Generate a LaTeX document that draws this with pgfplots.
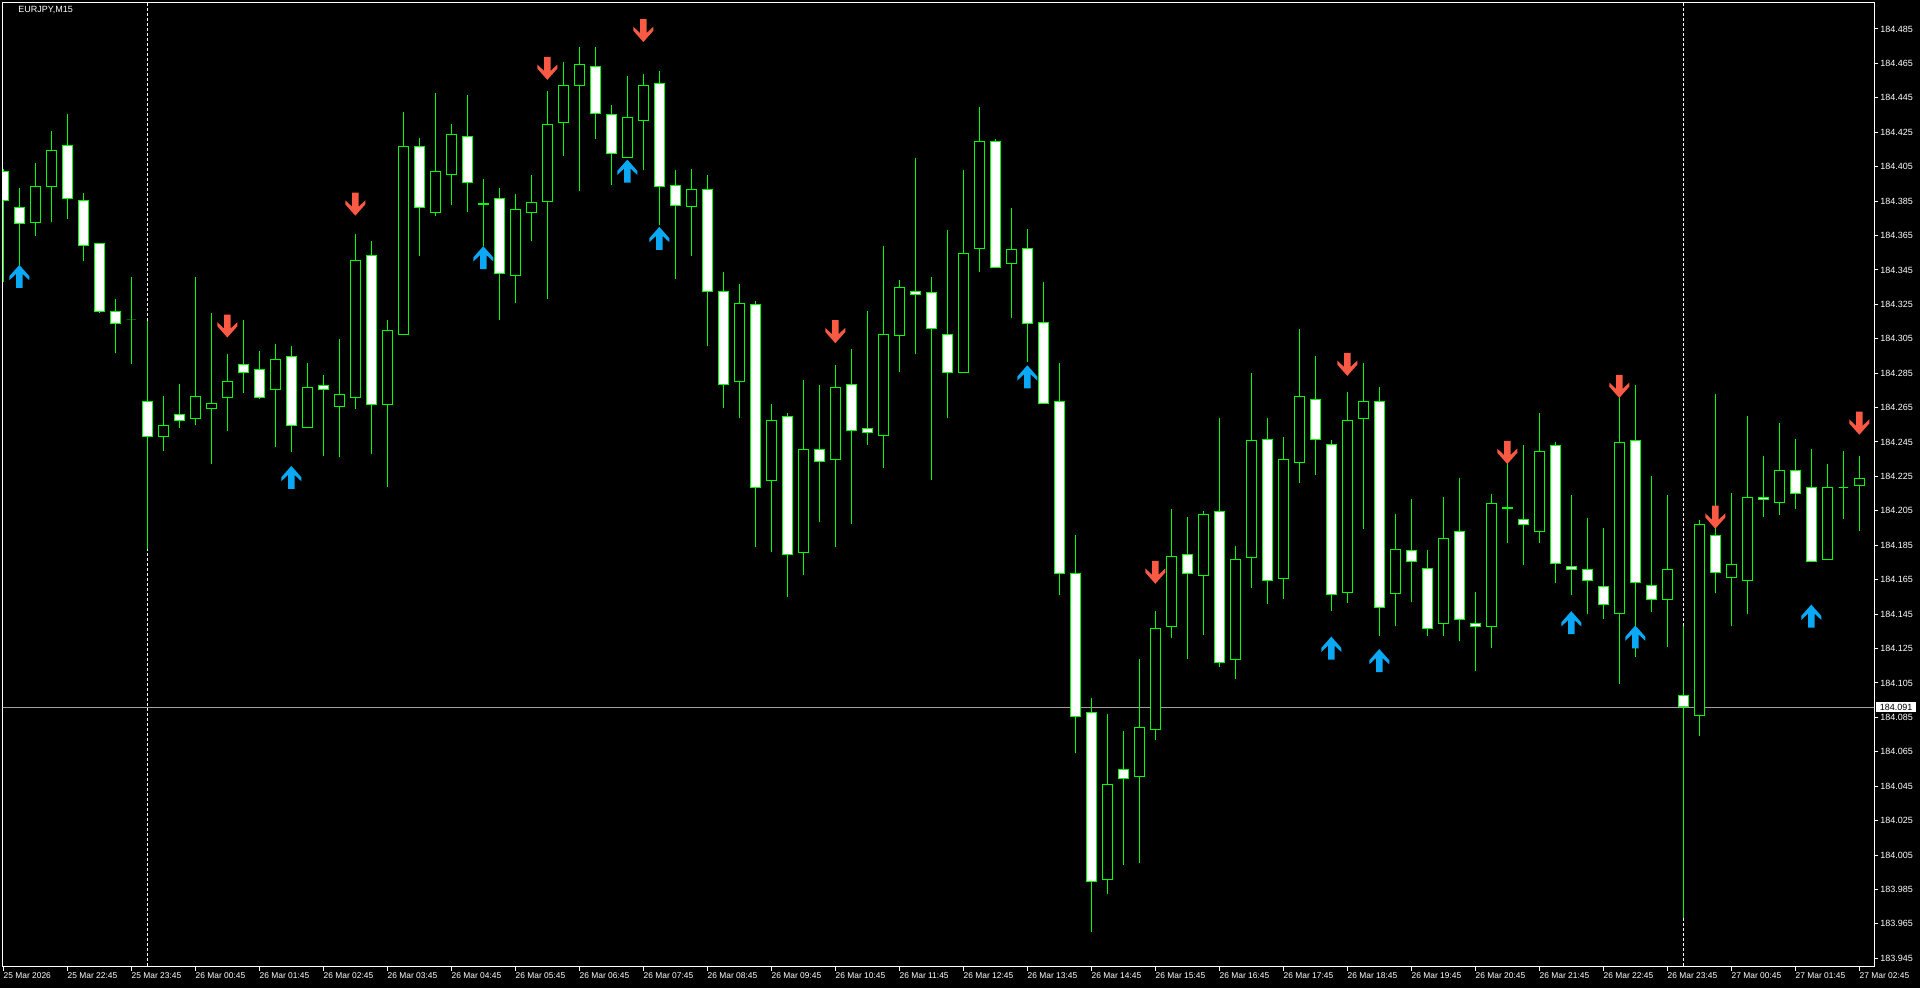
\documentclass[border=0pt]{standalone}
\usepackage{fontspec}
\setmainfont{Liberation Sans}
\usepackage{pgfplots}
\usepackage{pgfplotstable}
\pgfplotsset{compat=1.18}
\definecolor{mtgreen}{RGB}{0,255,0}
\definecolor{arrred}{RGB}{250,90,68}
\definecolor{arrblue}{RGB}{10,168,245}
\definecolor{pline}{RGB}{160,160,160}

\pgfdeclareplotmark{dnarr}{%
 \pgfpathmoveto{\pgfpoint{-1.65pt}{5.75pt}}%
 \pgfpathlineto{\pgfpoint{1.65pt}{5.75pt}}%
 \pgfpathlineto{\pgfpoint{1.65pt}{-1.25pt}}%
 \pgfpathlineto{\pgfpoint{5pt}{1.9pt}}%
 \pgfpathlineto{\pgfpoint{5pt}{-0.1pt}}%
 \pgfpathlineto{\pgfpoint{0pt}{-5.75pt}}%
 \pgfpathlineto{\pgfpoint{-5pt}{-0.1pt}}%
 \pgfpathlineto{\pgfpoint{-5pt}{1.9pt}}%
 \pgfpathlineto{\pgfpoint{-1.65pt}{-1.25pt}}%
 \pgfpathclose
 \pgfusepathqfill}
\pgfdeclareplotmark{uparr}{%
 \pgfpathmoveto{\pgfpoint{-1.65pt}{-5.75pt}}%
 \pgfpathlineto{\pgfpoint{1.65pt}{-5.75pt}}%
 \pgfpathlineto{\pgfpoint{1.65pt}{1.25pt}}%
 \pgfpathlineto{\pgfpoint{5pt}{-1.9pt}}%
 \pgfpathlineto{\pgfpoint{5pt}{0.1pt}}%
 \pgfpathlineto{\pgfpoint{0pt}{5.75pt}}%
 \pgfpathlineto{\pgfpoint{-5pt}{0.1pt}}%
 \pgfpathlineto{\pgfpoint{-5pt}{-1.9pt}}%
 \pgfpathlineto{\pgfpoint{-1.65pt}{1.25pt}}%
 \pgfpathclose
 \pgfusepathqfill}

\pgfplotstableread{
k o h l c
0 184.4019 184.4037 184.3378 184.3854
1 184.3810 184.3928 184.3481 184.3719
2 184.3726 184.4074 184.3646 184.3935
3 184.3935 184.4257 184.3726 184.4143
4 184.4173 184.4356 184.3748 184.3865
5 184.3854 184.3898 184.3499 184.3591
6 184.3605 184.3608 184.3199 184.3210
7 184.3210 184.3279 184.2965 184.3140
8 184.3159 184.3408 184.2906 184.3159
9 184.2683 184.3151 184.1826 184.2481
10 184.2481 184.2719 184.2397 184.2547
11 184.2609 184.2789 184.2529 184.2577
12 184.2588 184.3408 184.2547 184.2716
13 184.2646 184.3199 184.2320 184.2672
14 184.2708 184.2961 184.2514 184.2800
15 184.2899 184.3159 184.2734 184.2855
16 184.2869 184.2979 184.2697 184.2708
17 184.2756 184.3019 184.2419 184.2932
18 184.2946 184.3008 184.2390 184.2547
19 184.2533 184.2910 184.2529 184.2767
20 184.2778 184.2840 184.2368 184.2756
21 184.2657 184.3049 184.2361 184.2727
22 184.2708 184.3660 184.2642 184.3506
23 184.3536 184.3620 184.2379 184.2668
24 184.2668 184.3159 184.2188 184.3100
25 184.3074 184.4367 184.3074 184.4169
26 184.4169 184.4217 184.3528 184.3810
27 184.3785 184.4477 184.3766 184.4019
28 184.4004 184.4297 184.3825 184.4239
29 184.4228 184.4466 184.3785 184.3960
30 184.3836 184.3979 184.3591 184.3829
31 184.3865 184.3928 184.3159 184.3430
32 184.3419 184.3891 184.3257 184.3799
33 184.3785 184.4001 184.3616 184.3840
34 184.3847 184.4491 184.3283 184.4297
35 184.4308 184.4660 184.4114 184.4521
36 184.4521 184.4744 184.3909 184.4641
37 184.4630 184.4744 184.4213 184.4356
38 184.4352 184.4407 184.3946 184.4129
39 184.4103 184.4575 184.4103 184.4337
40 184.4319 184.4590 184.4030 184.4521
41 184.4532 184.4605 184.3711 184.3935
42 184.3938 184.4030 184.3397 184.3825
43 184.3818 184.4037 184.3528 184.3920
44 184.3920 184.4001 184.3005 184.3327
45 184.3323 184.3437 184.2646 184.2782
46 184.2800 184.3367 184.2588 184.3257
47 184.3250 184.3268 184.1837 184.2188
48 184.2229 184.2672 184.1808 184.2573
49 184.2598 184.2620 184.1548 184.1797
50 184.1808 184.2811 184.1680 184.2404
51 184.2404 184.2782 184.1987 184.2339
52 184.2350 184.2899 184.1837 184.2767
53 184.2785 184.2990 184.1976 184.2518
54 184.2529 184.3210 184.2434 184.2503
55 184.2489 184.3591 184.2298 184.3074
56 184.3067 184.3393 184.2855 184.3349
57 184.3323 184.4099 184.2961 184.3309
58 184.3320 184.3408 184.2229 184.3107
59 184.3074 184.3682 184.2588 184.2855
60 184.2855 184.4030 184.2855 184.3547
61 184.3576 184.4396 184.3437 184.4198
62 184.4198 184.4213 184.3466 184.3466
63 184.3488 184.3810 184.3170 184.3569
64 184.3572 184.3689 184.2913 184.3140
65 184.3144 184.3378 184.2672 184.2672
66 184.2683 184.2910 184.1559 184.1687
67 184.1687 184.1910 184.0640 184.0852
68 184.0878 184.0962 183.9600 183.9897
69 183.9908 184.0870 183.9823 184.0460
70 184.0545 184.0772 183.9992 184.0493
71 184.0508 184.1189 184.0003 184.0790
72 184.0779 184.1467 184.0717 184.1368
73 184.1379 184.2060 184.1310 184.1786
74 184.1797 184.2016 184.1189 184.1683
75 184.1672 184.2049 184.1328 184.2031
76 184.2046 184.2591 184.1145 184.1171
77 184.1185 184.1848 184.1072 184.1767
78 184.1778 184.2851 184.1599 184.2459
79 184.2463 184.2591 184.1507 184.1643
80 184.1658 184.2478 184.1540 184.2350
81 184.2328 184.3107 184.2214 184.2716
82 184.2697 184.2950 184.2258 184.2467
83 184.2434 184.2463 184.1467 184.1562
84 184.1577 184.2741 184.1515 184.2577
85 184.2588 184.2910 184.1947 184.2683
86 184.2686 184.2771 184.1321 184.1489
87 184.1570 184.2031 184.1379 184.1826
88 184.1819 184.2119 184.1518 184.1753
89 184.1716 184.1822 184.1321 184.1368
90 184.1398 184.2130 184.1321 184.1892
91 184.1932 184.2240 184.1291 184.1420
92 184.1398 184.1577 184.1119 184.1379
93 184.1379 184.2148 184.1251 184.2090
94 184.2062 184.2335 184.1863 184.2072
95 184.1998 184.2434 184.1738 184.1969
96 184.1932 184.2620 184.1863 184.2393
97 184.2430 184.2452 184.1628 184.1742
98 184.1727 184.2141 184.1559 184.1709
99 184.1709 184.2009 184.1449 184.1643
100 184.1610 184.1950 184.1420 184.1504
101 184.1453 184.2712 184.1043 184.2448
102 184.2459 184.2782 184.1200 184.1632
103 184.1617 184.2254 184.1460 184.1533
104 184.1533 184.2141 184.1259 184.1709
105 184.0977 184.1383 183.9684 184.0914
106 184.0863 184.1998 184.0742 184.1969
107 184.1907 184.2730 184.1570 184.1691
108 184.1661 184.2152 184.1379 184.1738
109 184.1643 184.2602 184.1449 184.2130
110 184.2130 184.2368 184.2016 184.2115
111 184.2101 184.2562 184.2027 184.2287
112 184.2287 184.2467 184.2060 184.2148
113 184.2188 184.2408 184.1753 184.1753
114 184.1767 184.2324 184.1767 184.2185
115 184.2188 184.2397 184.2002 184.2188
116 184.2200 184.2368 184.1932 184.2240
}\candles

\pgfplotsset{
  wick/.style={mtgreen, line width=0.5pt},
  body/.style={draw=mtgreen, line width=0.5pt},
}

\begin{document}
\begin{tikzpicture}
\useasboundingbox (0,0) rectangle (960pt,494pt);
\fill[black] (0,0) rectangle (960pt,494pt);
\begin{axis}[
  at={(1.35pt,10.65pt)}, anchor=south west,
  scale only axis, width=935.65pt, height=482.1pt,
  xmin=-0.04, xmax=116.92, ymin=183.9401, ymax=184.5004,
  axis line style={white, line width=0.5pt},
  tick style={white, line width=0.5pt},
  major tick length=2pt, tick align=outside,
  xtick pos=left, ytick pos=right, yticklabel pos=right,
  scaled y ticks=false, scaled x ticks=false,
  xtick={0,4,...,116},
  xticklabels={25 Mar 2026,25 Mar 22:45,25 Mar 23:45,26 Mar 00:45,26 Mar 01:45,26 Mar 02:45,26 Mar 03:45,26 Mar 04:45,26 Mar 05:45,26 Mar 06:45,26 Mar 07:45,26 Mar 08:45,26 Mar 09:45,26 Mar 10:45,26 Mar 11:45,26 Mar 12:45,26 Mar 13:45,26 Mar 14:45,26 Mar 15:45,26 Mar 16:45,26 Mar 17:45,26 Mar 18:45,26 Mar 19:45,26 Mar 20:45,26 Mar 21:45,26 Mar 22:45,26 Mar 23:45,27 Mar 00:45,27 Mar 01:45,27 Mar 02:45},
  ytick={183.945,183.965,183.985,184.005,184.025,184.045,184.065,184.085,184.105,184.125,184.145,184.165,184.185,184.205,184.225,184.245,184.265,184.285,184.305,184.325,184.345,184.365,184.385,184.405,184.425,184.445,184.465,184.485},
  yticklabels={183.945,183.965,183.985,184.005,184.025,184.045,184.065,184.085,184.105,184.125,184.145,184.165,184.185,184.205,184.225,184.245,184.265,184.285,184.305,184.325,184.345,184.365,184.385,184.405,184.425,184.445,184.465,184.485},
  tick label style={text=white},
  xticklabel style={anchor=north west, inner sep=0pt, yshift=-1pt, font=\fontsize{4.2}{5}\selectfont},
  yticklabel style={anchor=west, inner sep=0pt, xshift=1pt, font=\fontsize{4.5}{5}\selectfont},
  /pgf/number format/assume math mode=true,
]
\addplot[pline, line width=0.5pt] coordinates {(-1,184.091) (118,184.091)};
\addplot[white, line width=0.5pt, dash pattern=on 1.5pt off 1pt] coordinates {(9,183.9) (9,184.6)};
\addplot[white, line width=0.5pt, dash pattern=on 1.5pt off 1pt] coordinates {(105,183.9) (105,184.6)};
\pgfplotsforeachungrouped \k in {0,...,116}{%
  \pgfplotstablegetelem{\k}{o}\of\candles \let\vo\pgfplotsretval
  \pgfplotstablegetelem{\k}{h}\of\candles \let\vh\pgfplotsretval
  \pgfplotstablegetelem{\k}{l}\of\candles \let\vl\pgfplotsretval
  \pgfplotstablegetelem{\k}{c}\of\candles \let\vc\pgfplotsretval
  \pgfmathsetmacro\xa{\k-0.3}%
  \pgfmathsetmacro\xb{\k+0.3}%
  \ifdim\vo pt>\vc pt \def\bodyfill{white}\else \def\bodyfill{black}\fi
  \edef\next{%
    \noexpand\addplot[wick] coordinates {(\k,\vl) (\k,\vh)};
    \noexpand\addplot[body, fill=\bodyfill] coordinates {(\xa,\vo) (\xb,\vo) (\xb,\vc) (\xa,\vc)} -- cycle;
  }\next
}
\addplot[only marks, mark=dnarr, color=arrred] coordinates {(14,184.3124) (22,184.3832) (34,184.4621) (40,184.4841) (52,184.3091) (72,184.1693) (84,184.2901) (94,184.2389) (101,184.2773) (107,184.2013) (116,184.2559)};
\addplot[only marks, mark=uparr, color=arrblue] coordinates {(1,184.3412) (18,184.2244) (30,184.3521) (39,184.4024) (41,184.3633) (64,184.2829) (83,184.1252) (86,184.1180) (98,184.1400) (102,184.1317) (113,184.1438)};
\coordinate (P) at (axis cs:0,184.091);
\coordinate (R) at (rel axis cs:1,0);
\end{axis}
\node[fill=white, text=black, anchor=west, inner xsep=2pt, inner ysep=0pt, minimum height=5.15pt, font=\fontsize{4.5}{5}\selectfont] at ([xshift=0.75pt]R |- P) {184.091};
\node[anchor=north west, inner sep=0pt, text=white, font=\fontsize{4.5}{5}\selectfont] at (9pt,491pt) {EURJPY,M15};
\end{tikzpicture}
\end{document}
